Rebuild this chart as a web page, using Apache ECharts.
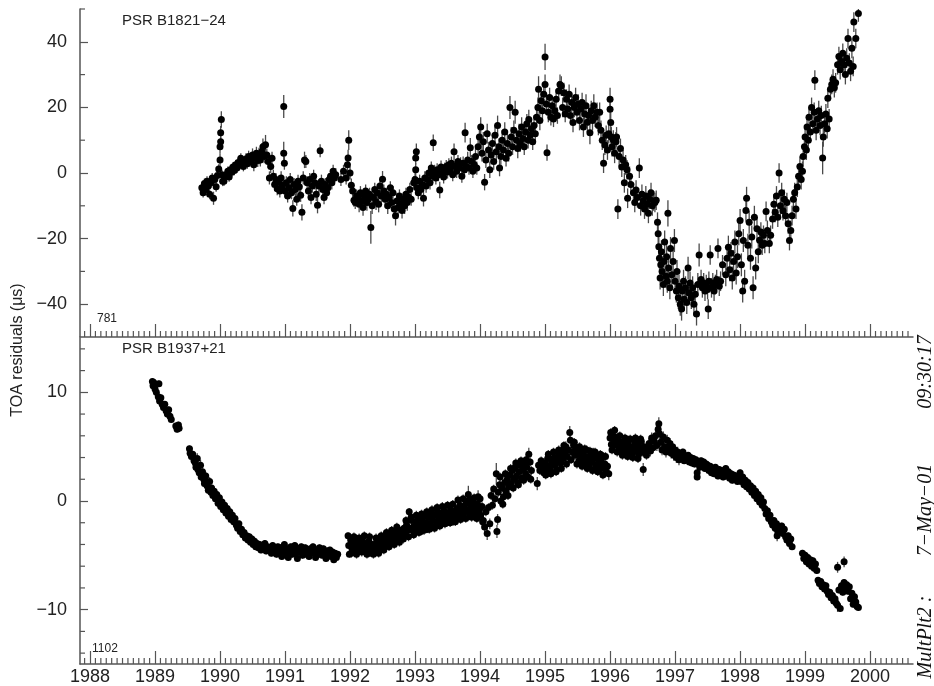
<!DOCTYPE html>
<html>
<head>
<meta charset="utf-8">
<script src="https://cdn.jsdelivr.net/npm/echarts@6/dist/echarts.min.js"></script>
<style>
  html, body { margin: 0; padding: 0; background: #fff; }
  #chart { width: 934px; height: 686px; }
</style>
</head>
<body>
<div id="chart"></div>
<script>
// Timing residuals, one row per TOA: [epoch (yr), residual (us), 1-sigma error (us)]
const b1821Toas = [
  [1989.72,-4.5,1.5],[1989.74,-6.0,1.5],[1989.76,-3.2,1.5],[1989.78,-5.0,1.8],[1989.80,-2.5,1.5],[1989.82,-4.0,2.0],[1989.84,-6.5,1.5],[1989.86,-3.0,1.5],[1989.88,-1.5,1.5],[1989.90,-7.7,2.0],[1989.92,-2.0,1.5],[1989.94,-4.2,1.5],[1989.96,-0.8,1.5],[1989.98,1.2,1.5],[1990.00,4.0,2.0],[1990.00,8.0,2.0],[1990.01,9.5,2.0],[1990.01,12.3,2.0],[1990.02,16.3,2.5],[1990.03,-0.5,1.5],[1990.04,-2.5,1.5],
  [1990.06,-2.5,1.5],[1990.08,-1.0,1.5],[1990.10,-0.5,1.5],[1990.12,0.5,1.5],[1990.14,-1.2,1.5],[1990.16,1.0,1.5],[1990.18,0.2,1.5],[1990.20,1.8,1.5],[1990.22,0.8,1.5],[1990.24,2.5,1.5],[1990.26,1.5,1.5],[1990.28,3.2,1.5],[1990.30,2.4,1.5],[1990.32,4.5,1.5],[1990.34,3.0,1.5],[1990.36,2.0,1.5],[1990.38,3.8,1.5],[1990.40,4.2,1.8],[1990.42,2.8,1.5],[1990.44,5.0,1.8],[1990.46,3.5,1.5],[1990.48,4.0,2.0],[1990.50,5.5,2.0],[1990.52,2.5,2.0],[1990.54,4.5,2.0],[1990.56,6.0,2.0],[1990.58,3.8,2.0],[1990.60,5.2,2.5],[1990.62,4.0,2.0],[1990.64,6.5,2.5],[1990.66,8.0,2.5],[1990.68,5.0,2.0],[1990.70,8.6,3.0],[1990.72,5.5,2.0],[1990.74,3.5,2.0],[1990.76,-1.5,2.0],[1990.78,2.0,2.0],[1990.80,4.5,2.0],
  [1990.82,-1.0,2.0],[1990.84,-3.5,2.0],[1990.86,-2.0,2.0],[1990.88,-4.8,2.0],[1990.90,-2.8,2.0],[1990.92,-5.5,2.0],[1990.94,-1.5,2.0],[1990.96,-3.8,2.0],[1990.98,20.3,3.5],[1990.98,6.0,3.5],[1990.99,3.0,2.0],
  [1991.00,-5.5,2.0],[1991.02,-3.0,2.0],[1991.04,-7.0,2.0],[1991.06,-4.5,2.0],[1991.08,-2.0,2.0],[1991.10,-6.0,2.0],[1991.12,-10.8,2.5],[1991.14,-3.5,2.0],[1991.16,-5.0,2.0],[1991.18,-8.0,2.0],[1991.20,-2.5,2.0],[1991.22,-4.2,2.0],[1991.24,-6.8,2.0],[1991.26,-12.0,2.5],[1991.28,-1.5,2.0],[1991.30,4.0,2.5],[1991.32,3.5,2.0],[1991.34,-3.0,2.0],[1991.36,-5.5,2.0],[1991.38,-2.0,2.0],[1991.40,-7.5,2.0],[1991.42,-4.0,2.0],[1991.44,-1.0,2.0],
  [1991.46,-3.0,2.0],[1991.48,-6.5,2.0],[1991.50,-9.8,2.5],[1991.52,-4.0,2.0],[1991.54,6.8,2.0],[1991.56,-2.5,2.0],[1991.58,-5.0,2.0],[1991.60,-7.5,2.0],[1991.62,-3.5,2.0],[1991.64,-6.0,2.0],[1991.66,-4.5,2.0],[1991.68,-2.0,2.0],[1991.70,-1.0,2.0],[1991.72,-3.0,2.0],[1991.74,0.5,2.0],[1991.76,-1.5,2.0],[1991.78,-0.5,2.0],
  [1991.86,-2.0,2.0],[1991.90,0.5,2.0],[1991.94,-1.5,2.0],[1991.96,2.5,2.0],[1991.97,4.6,2.5],[1991.98,10.0,3.0],[1992.00,0.0,2.0],[1992.02,-3.7,2.0],[1992.04,-5.5,2.0],[1992.06,-8.3,2.0],[1992.08,-9.0,2.0],[1992.10,-7.0,2.0],
  [1992.12,-7.5,2.0],[1992.14,-9.5,2.5],[1992.16,-6.0,2.0],[1992.18,-8.5,2.5],[1992.20,-10.5,2.5],[1992.22,-7.0,2.0],[1992.24,-5.5,2.0],[1992.26,-9.0,2.5],[1992.28,-8.0,2.0],[1992.30,-6.5,2.0],[1992.32,-16.6,5.0],[1992.34,-10.0,2.5],[1992.36,-7.5,2.0],[1992.38,-5.0,2.0],[1992.40,-8.8,2.5],[1992.42,-6.0,2.0],[1992.44,-9.5,2.5],[1992.46,-4.0,2.0],[1992.48,-7.0,2.0],[1992.50,-1.9,2.5],[1992.52,-5.5,2.0],[1992.54,-8.0,2.5],[1992.56,-6.5,2.0],[1992.58,-10.0,2.5],[1992.60,-7.5,2.0],[1992.62,-4.5,2.0],[1992.64,-9.0,2.5],[1992.66,-6.0,2.0],[1992.68,-11.0,2.5],[1992.70,-13.0,3.0],[1992.72,-8.5,2.5],[1992.74,-10.5,2.5],[1992.76,-7.0,2.0],[1992.78,-9.5,2.5],[1992.80,-11.4,2.5],[1992.82,-8.0,2.0],[1992.84,-10.0,2.5],[1992.86,-6.5,2.0],[1992.88,-9.0,2.5],[1992.90,-7.4,2.0],[1992.92,-5.0,2.0],[1992.94,-8.0,2.0],
  [1992.98,-3.0,2.0],[1993.00,-2.0,2.0],[1993.01,1.0,2.0],[1993.01,4.6,2.0],[1993.02,6.5,2.5],[1993.03,-4.5,2.0],[1993.05,-6.0,2.0],[1993.07,-2.5,2.0],[1993.09,-5.0,2.0],[1993.11,-3.5,2.0],[1993.13,-7.7,2.5],[1993.15,-1.5,2.0],[1993.17,-4.0,2.0],[1993.19,-2.0,2.0],[1993.21,0.0,2.0],[1993.23,-3.0,2.0],[1993.25,1.5,2.0],[1993.27,-1.0,2.0],[1993.28,9.2,2.5],[1993.30,0.5,2.0],[1993.32,-1.5,2.0],[1993.34,1.0,2.0],[1993.36,-0.5,2.0],[1993.38,-5.2,2.5],[1993.40,1.8,2.0],[1993.42,0.0,2.0],[1993.44,-1.2,2.0],[1993.46,1.2,2.0],[1993.48,2.0,2.0],[1993.50,0.3,2.0],
  [1993.52,2.5,2.0],[1993.54,1.0,2.0],[1993.56,3.0,2.0],[1993.58,-0.5,2.0],[1993.60,6.5,2.5],[1993.62,2.0,2.0],[1993.64,0.5,2.0],[1993.66,3.5,2.0],[1993.68,1.5,2.0],[1993.70,2.8,2.0],[1993.72,-1.0,2.0],[1993.74,3.0,2.0],[1993.76,1.0,2.0],[1993.77,12.3,3.0],[1993.79,2.0,2.0],[1993.81,4.0,2.5],[1993.83,1.5,2.0],[1993.85,7.7,3.0],[1993.87,3.5,2.0],[1993.89,0.5,2.0],[1993.91,2.5,2.0],[1993.93,5.0,2.5],[1993.95,1.5,2.0],[1993.97,8.0,3.0],
  [1993.99,11.0,3.0],[1994.01,14.0,3.0],[1994.03,6.0,2.5],[1994.05,9.5,3.0],[1994.07,-2.8,2.5],[1994.09,4.0,2.5],[1994.11,12.0,3.0],[1994.13,7.0,2.5],[1994.15,1.0,2.5],[1994.17,5.5,2.5],[1994.19,9.0,3.0],[1994.21,3.5,2.5],[1994.23,11.5,3.0],[1994.25,6.5,2.5],[1994.27,14.5,3.0],[1994.29,8.0,2.5],[1994.30,1.5,2.5],[1994.32,5.0,2.5],[1994.34,10.0,3.0],[1994.36,7.0,2.5],[1994.38,12.5,3.0],[1994.40,4.5,2.5],[1994.42,9.0,3.0],[1994.44,6.0,2.5],[1994.46,20.0,3.5],[1994.48,11.0,3.0],[1994.50,8.0,2.5],[1994.52,13.0,3.0],[1994.54,18.5,3.5],[1994.56,10.0,3.0],[1994.58,7.5,3.0],
  [1994.60,12.0,3.0],[1994.62,9.0,2.5],[1994.64,14.0,3.0],[1994.66,10.5,2.5],[1994.68,8.0,2.5],[1994.70,12.5,3.0],[1994.72,15.0,3.0],[1994.74,10.0,2.5],[1994.75,16.3,3.0],[1994.77,11.5,2.5],[1994.79,13.5,3.0],[1994.81,9.5,2.5],[1994.83,14.5,3.0],[1994.85,12.0,2.5],[1994.87,17.0,3.0],[1994.89,20.0,3.0],[1994.90,25.5,4.0],[1994.92,16.0,3.0],[1994.94,22.0,3.0],
  [1994.96,19.0,3.0],[1994.98,24.0,3.0],[1995.00,27.0,3.0],[1995.00,35.4,4.0],[1995.02,21.0,3.0],[1995.03,6.2,2.5],[1995.05,18.5,3.0],[1995.07,23.0,3.0],[1995.09,17.0,2.5],[1995.11,20.5,3.0],[1995.13,16.5,2.5],[1995.15,19.0,3.0],[1995.17,22.5,3.0],[1995.19,17.5,2.5],
  [1995.21,25.0,3.0],[1995.23,27.0,3.0],[1995.25,26.5,3.0],[1995.27,20.0,3.0],[1995.29,24.5,3.0],[1995.31,18.0,2.5],[1995.33,22.5,3.0],[1995.35,19.5,2.5],[1995.37,24.0,3.0],[1995.39,17.5,2.5],[1995.41,21.5,3.0],[1995.43,15.4,3.0],[1995.45,20.0,3.0],[1995.47,23.0,3.0],[1995.49,18.5,3.0],[1995.51,21.0,3.0],[1995.53,16.0,3.0],[1995.55,19.5,3.0],[1995.57,21.5,3.0],[1995.59,14.0,3.0],[1995.61,18.0,3.0],[1995.63,20.5,3.5],[1995.65,15.5,3.0],[1995.67,17.5,3.0],[1995.69,12.3,3.5],[1995.71,19.0,3.0],[1995.73,16.0,3.0],[1995.75,20.5,3.5],[1995.77,17.0,3.0],[1995.80,18.5,3.0],[1995.82,14.5,3.0],[1995.84,18.5,3.0],
  [1995.86,13.0,3.0],[1995.88,10.0,3.0],[1995.90,3.0,3.0],[1995.92,8.5,3.0],[1995.94,11.5,3.0],[1995.96,7.0,3.0],[1995.98,12.0,3.0],[1996.00,22.5,3.5],[1996.00,19.4,3.0],[1996.01,15.4,3.0],[1996.02,11.0,3.0],[1996.03,8.0,3.0],[1996.05,10.0,3.0],[1996.07,6.0,3.0],[1996.09,9.5,3.0],[1996.10,11.0,3.0],[1996.12,-11.0,3.0],[1996.14,5.0,3.0],[1996.16,7.5,3.0],[1996.18,1.8,3.0],[1996.20,4.0,3.0],[1996.22,-3.0,3.0],[1996.24,2.5,3.0],[1996.26,1.0,3.0],[1996.27,-7.7,3.0],[1996.30,-1.0,3.0],[1996.32,-3.5,3.0],
  [1996.36,-6.0,3.0],[1996.38,-9.0,3.0],[1996.40,-5.2,3.0],[1996.42,-7.5,3.0],[1996.45,1.5,3.0],[1996.47,-10.0,3.0],[1996.49,-6.5,3.0],[1996.51,-8.5,3.0],[1996.53,-11.0,3.0],[1996.55,-7.0,3.0],[1996.57,-9.5,3.0],[1996.59,-12.3,3.0],[1996.61,-8.0,3.0],[1996.63,-6.0,3.0],[1996.65,-10.0,3.0],[1996.67,-8.5,3.0],[1996.69,-9.0,3.0],
  [1996.71,-8.3,3.0],[1996.73,-15.0,3.0],[1996.74,-18.5,3.5],[1996.75,-22.5,3.5],[1996.76,-26.0,3.5],[1996.77,-32.0,3.5],[1996.78,-28.0,3.5],[1996.79,-24.0,3.5],[1996.80,-30.0,3.5],[1996.82,-34.0,3.5],[1996.83,-27.0,3.5],[1996.84,-21.0,3.5],[1996.86,-31.5,3.5],[1996.87,-25.5,3.5],[1996.88,-33.0,3.5],[1996.89,-12.3,4.0],[1996.90,-29.0,3.5],[1996.92,-35.0,3.5],[1996.93,-23.0,3.5],[1996.95,-31.0,3.5],[1996.97,-27.0,3.5],[1996.99,-20.6,3.5],
  [1997.00,-33.0,3.5],[1997.02,-36.0,3.5],[1997.03,-30.0,3.5],[1997.05,-38.0,3.5],[1997.06,-34.5,3.5],[1997.08,-40.0,3.5],[1997.10,-41.5,3.5],[1997.11,-36.0,3.5],[1997.13,-33.0,3.5],[1997.14,-38.5,3.5],[1997.16,-35.0,3.5],[1997.18,-39.5,3.5],[1997.20,-29.0,3.5],[1997.21,-36.5,3.5],[1997.23,-33.5,3.5],[1997.25,-38.0,3.5],[1997.27,-35.0,3.5],[1997.29,-40.0,3.5],[1997.31,-37.0,3.5],[1997.33,-43.0,3.5],[1997.35,-34.0,3.5],[1997.37,-25.0,3.5],
  [1997.40,-32.5,3.0],[1997.42,-35.0,3.0],[1997.44,-33.5,3.0],[1997.46,-36.0,3.0],[1997.48,-34.0,3.0],[1997.50,-35.5,3.0],[1997.51,-41.5,3.0],[1997.52,-33.0,3.0],[1997.54,-25.0,3.0],[1997.56,-35.0,3.0],[1997.58,-33.5,3.0],[1997.60,-36.0,3.0],[1997.62,-34.0,3.0],[1997.64,-32.5,3.0],[1997.66,-23.0,3.0],[1997.68,-34.5,3.0],[1997.70,-33.0,3.0],[1997.73,-28.0,3.0],
  [1997.78,-31.0,3.5],[1997.80,-26.0,3.5],[1997.82,-22.6,3.5],[1997.84,-29.5,3.5],[1997.86,-24.5,3.5],[1997.88,-32.0,3.5],[1997.90,-27.0,3.5],[1997.92,-21.0,3.5],[1997.94,-30.5,3.5],[1997.96,-25.5,3.5],[1997.98,-18.5,3.5],[1998.00,-14.5,3.5],
  [1998.02,-28.0,3.5],[1998.04,-36.0,3.5],[1998.05,-20.6,3.5],[1998.07,-33.0,3.5],[1998.09,-11.4,3.5],[1998.10,-7.7,3.5],[1998.12,-22.0,3.5],[1998.14,-15.0,3.5],[1998.16,-26.0,3.5],[1998.18,-19.5,3.5],[1998.20,-35.0,3.5],[1998.22,-13.5,3.5],[1998.24,-29.0,3.5],[1998.26,-17.0,3.5],[1998.28,-24.0,3.5],[1998.30,-20.5,3.0],[1998.32,-18.0,3.0],[1998.34,-22.0,3.0],[1998.36,-19.0,3.0],[1998.38,-21.5,3.0],[1998.40,-11.7,3.0],[1998.42,-17.5,3.0],[1998.45,-21.5,3.0],[1998.47,-19.0,3.0],
  [1998.50,-14.0,3.0],[1998.52,-9.5,3.0],[1998.54,-12.0,3.0],[1998.56,-7.0,3.0],[1998.58,-13.5,3.0],[1998.60,0.0,3.0],[1998.62,-10.0,3.0],[1998.64,-6.0,3.0],[1998.66,-11.5,3.0],[1998.68,-8.0,3.0],[1998.70,-13.0,3.0],[1998.72,-9.0,3.0],[1998.74,-15.5,3.0],[1998.76,-20.6,3.0],[1998.78,-17.5,3.0],[1998.80,-13.0,3.0],[1998.82,-8.0,3.0],[1998.84,-6.0,3.0],[1998.86,-11.0,3.0],
  [1998.88,-4.3,3.0],[1998.90,-1.0,3.0],[1998.92,2.0,3.0],[1998.94,-2.0,3.0],[1998.96,0.5,3.0],[1998.97,5.0,3.0],[1998.99,8.0,3.0],[1999.00,11.0,3.0],[1999.02,7.0,3.0],[1999.03,14.0,3.0],[1999.05,10.0,3.0],[1999.06,17.0,3.0],[1999.08,12.5,3.0],[1999.10,20.0,3.0],
  [1999.12,15.0,3.0],[1999.14,18.5,3.0],[1999.15,28.3,3.0],[1999.17,13.0,3.0],[1999.19,16.5,3.0],[1999.21,19.0,3.0],[1999.23,14.5,3.0],[1999.25,17.5,3.0],[1999.27,4.6,5.0],[1999.28,11.0,3.0],[1999.30,15.0,3.0],[1999.32,18.0,3.0],[1999.34,13.5,3.0],[1999.35,22.8,3.0],[1999.37,16.5,3.0],[1999.39,25.5,3.0],[1999.41,27.0,3.0],[1999.43,28.6,3.0],[1999.45,26.0,3.0],[1999.47,27.5,3.0],
  [1999.50,33.0,3.0],[1999.52,35.5,3.0],[1999.54,31.5,3.0],[1999.56,34.0,3.0],[1999.58,36.5,3.0],[1999.60,33.0,3.0],[1999.62,30.0,3.0],[1999.64,35.0,3.0],[1999.66,41.0,3.0],[1999.68,33.5,3.0],[1999.70,31.0,3.0],[1999.72,38.0,3.0],[1999.74,32.5,3.0],[1999.75,46.0,3.0],[1999.78,41.0,3.0],[1999.82,48.6,2.5]
];

const b1937Toas = [
  [1988.96,11.0,0.3],[1988.97,10.6,0.3],[1988.98,10.9,0.3],[1989.00,10.3,0.3],[1989.02,10.0,0.3],[1989.06,10.8,0.3],[1989.05,9.6,0.3],[1989.07,9.2,0.3],[1989.09,9.5,0.3],[1989.11,8.9,0.3],[1989.13,8.6,0.3],[1989.15,8.9,0.3],[1989.17,8.3,0.3],[1989.19,8.0,0.3],[1989.21,8.4,0.3],[1989.23,7.8,0.3],[1989.25,7.5,0.3],[1989.32,6.9,0.3],[1989.34,6.6,0.3],[1989.36,7.0,0.3],[1989.37,6.7,0.3],
  [1989.53,4.8,0.3],[1989.54,4.4,0.3],[1989.56,4.1,0.3],[1989.58,4.3,0.3],[1989.60,3.7,0.3],[1989.62,3.5,0.3],[1989.63,3.1,0.3],[1989.65,3.9,0.5],[1989.66,2.9,0.3],[1989.68,2.6,0.3],[1989.70,3.3,0.5],[1989.71,2.2,0.3],[1989.73,2.7,0.3],[1989.75,2.0,0.3],[1989.76,1.6,0.3],[1989.78,2.3,0.4],[1989.80,1.4,0.3],[1989.82,1.0,0.3],[1989.84,1.8,0.4],[1989.86,0.8,0.3],
  [1989.87,1.2,0.3],[1989.89,0.5,0.3],[1989.91,0.9,0.3],[1989.93,0.2,0.3],[1989.95,0.6,0.3],[1989.97,-0.2,0.3],[1989.99,0.3,0.3],[1990.01,-0.5,0.3],[1990.03,-0.1,0.3],[1990.05,-0.8,0.3],[1990.07,-0.4,0.3],[1990.09,-1.1,0.3],[1990.11,-0.7,0.3],[1990.13,-1.4,0.3],[1990.15,-1.0,0.3],[1990.17,-1.7,0.3],[1990.19,-1.3,0.3],
  [1990.21,-1.9,0.3],[1990.23,-1.6,0.3],[1990.25,-2.2,0.3],[1990.27,-2.5,0.3],[1990.29,-2.1,0.3],[1990.31,-2.8,0.3],[1990.33,-2.6,0.3],[1990.35,-3.1,0.3],[1990.37,-2.9,0.3],[1990.39,-3.4,0.3],[1990.41,-3.2,0.3],[1990.43,-3.6,0.3],[1990.45,-3.3,0.3],[1990.47,-3.8,0.3],[1990.49,-3.5,0.3],[1990.51,-4.0,0.3],[1990.53,-3.7,0.3],[1990.55,-4.2,0.3],[1990.57,-3.9,0.3],[1990.59,-4.3,0.3],[1990.61,-4.0,0.3],[1990.63,-4.5,0.3],[1990.65,-4.1,0.3],[1990.67,-4.4,0.3],[1990.69,-3.9,0.3],[1990.71,-4.6,0.3],[1990.73,-4.2,0.3],[1990.75,-4.5,0.3],[1990.77,-4.3,0.3],[1990.79,-4.8,0.3],[1990.81,-4.1,0.3],[1990.83,-4.6,0.3],[1990.85,-4.4,0.3],[1990.87,-4.9,0.3],[1990.89,-4.2,0.3],
  [1990.91,-4.7,0.3],[1990.93,-4.3,0.3],[1990.95,-5.1,0.3],[1990.97,-4.5,0.3],[1990.99,-4.0,0.3],[1991.01,-4.8,0.3],[1991.03,-4.4,0.3],[1991.05,-5.2,0.3],[1991.07,-4.6,0.3],[1991.09,-4.2,0.3],[1991.11,-4.9,0.3],[1991.13,-4.5,0.3],[1991.15,-4.1,0.3],[1991.17,-4.8,0.3],[1991.19,-5.3,0.3],[1991.21,-4.4,0.3],[1991.23,-4.7,0.3],[1991.25,-4.2,0.3],[1991.27,-5.0,0.3],[1991.29,-4.6,0.3],[1991.31,-4.3,0.3],[1991.33,-4.9,0.3],[1991.35,-4.5,0.3],[1991.37,-5.1,0.3],[1991.39,-4.4,0.3],[1991.41,-4.8,0.3],[1991.43,-4.2,0.3],[1991.45,-4.7,0.3],[1991.47,-5.2,0.3],[1991.49,-4.5,0.3],[1991.51,-4.9,0.3],[1991.53,-4.3,0.3],[1991.55,-4.7,0.3],[1991.57,-5.0,0.3],[1991.59,-4.4,0.3],[1991.61,-4.8,0.3],[1991.63,-5.3,0.3],[1991.65,-4.6,0.3],[1991.67,-4.9,0.3],[1991.69,-4.5,0.3],[1991.71,-5.1,0.3],[1991.73,-4.7,0.3],[1991.75,-5.4,0.3],[1991.77,-4.8,0.3],[1991.79,-5.2,0.3],[1991.81,-4.9,0.3],
  [1991.97,-3.2,0.3],[1991.98,-4.1,0.3],[1991.99,-4.9,0.3],[1992.01,-3.6,0.3],[1992.03,-4.4,0.3],[1992.05,-3.9,0.3],[1992.07,-4.6,0.3],[1992.09,-3.5,0.3],[1992.11,-4.2,0.3],[1992.13,-3.8,0.3],[1992.15,-4.5,0.3],[1992.17,-4.0,0.3],[1992.19,-3.6,0.3],[1992.21,-4.3,0.3],[1992.23,-3.9,0.3],[1992.25,-4.6,0.3],[1992.27,-4.1,0.3],[1992.29,-3.7,0.3],[1992.31,-4.4,0.3],[1992.33,-4.8,0.3],[1992.35,-4.0,0.3],[1992.37,-4.5,0.3],[1992.39,-4.2,0.3],[1992.41,-3.8,0.3],[1992.43,-4.6,0.3],[1992.45,-4.1,0.3],[1992.47,-3.7,0.3],[1992.49,-4.3,0.3],[1992.51,-3.9,0.3],[1992.53,-3.4,0.3],[1992.55,-4.0,0.3],[1992.57,-3.6,0.3],[1992.59,-3.2,0.3],[1992.61,-3.8,0.3],[1992.63,-3.4,0.3],[1992.65,-3.0,0.3],[1992.67,-3.6,0.3],[1992.69,-3.2,0.3],[1992.71,-2.8,0.3],[1992.73,-3.5,0.3],[1992.75,-3.1,0.3],[1992.77,-2.7,0.3],[1992.79,-3.3,0.3],
  [1992.02,-4.8,0.4],[1992.06,-3.3,0.4],[1992.10,-4.9,0.4],[1992.14,-3.4,0.4],[1992.18,-4.7,0.4],[1992.22,-3.2,0.4],[1992.26,-4.9,0.4],[1992.30,-3.3,0.4],[1992.36,-4.9,0.4],[1992.40,-3.4,0.4],[1992.44,-4.8,0.4],[1992.48,-3.2,0.4],[1992.52,-4.5,0.4],[1992.56,-2.9,0.4],[1992.60,-4.2,0.4],[1992.64,-2.7,0.4],[1992.68,-4.0,0.4],[1992.72,-2.4,0.4],[1992.76,-3.8,0.4],
  [1992.81,-2.9,0.35],[1992.83,-2.5,0.35],[1992.85,-3.1,0.35],[1992.87,-2.2,0.35],[1992.89,-2.7,0.35],[1992.91,-1.0,0.35],[1992.93,-2.6,0.35],[1992.95,-1.8,0.35],[1992.97,-2.4,0.35],[1992.99,-2.9,0.35],[1993.01,-1.9,0.35],[1993.03,-2.5,0.35],[1993.05,-1.6,0.35],[1993.07,-2.2,0.35],[1993.09,-2.8,0.35],[1993.11,-1.7,0.35],[1993.13,-2.3,0.35],[1993.15,-1.4,0.35],[1993.17,-2.0,0.35],[1993.19,-2.6,0.35],[1993.21,-1.5,0.35],[1993.23,-2.1,0.35],[1993.25,-1.2,0.35],[1993.27,-1.8,0.35],[1993.29,-2.4,0.35],[1993.31,-1.3,0.35],[1993.33,-1.9,0.35],[1993.35,-1.0,0.35],[1993.37,-1.6,0.35],[1993.39,-2.2,0.35],[1993.41,-1.2,0.35],[1993.43,-1.8,0.35],[1993.45,-0.9,0.35],[1993.47,-1.5,0.35],[1993.49,-2.0,0.35],[1993.51,-1.1,0.35],[1993.53,-1.6,0.35],[1993.55,-0.8,0.35],[1993.57,-1.4,0.35],[1993.59,-1.9,0.35],[1993.61,-1.0,0.35],[1993.63,-1.5,0.35],
  [1992.82,-3.5,0.4],[1992.86,-1.8,0.4],[1992.90,-3.3,0.4],[1992.94,-1.5,0.4],[1992.98,-3.1,0.4],[1993.02,-1.3,0.4],[1993.06,-2.9,0.4],[1993.10,-1.2,0.4],[1993.14,-2.7,0.4],[1993.18,-1.0,0.4],[1993.22,-2.6,0.4],[1993.26,-0.8,0.4],[1993.30,-2.5,0.4],[1993.34,-0.6,0.4],[1993.38,-2.3,0.4],[1993.42,-0.5,0.4],[1993.46,-2.1,0.4],[1993.50,-0.4,0.4],[1993.54,-2.0,0.4],[1993.58,-0.3,0.4],[1993.62,-1.9,0.4],
  [1993.65,-0.7,0.4],[1993.67,-1.2,0.4],[1993.69,-0.4,0.4],[1993.71,-0.9,0.4],[1993.73,-1.4,0.4],[1993.75,-0.5,0.4],[1993.77,-1.0,0.4],[1993.79,-0.2,0.4],[1993.81,-0.8,0.4],[1993.82,0.6,0.8],[1993.84,-1.3,0.4],[1993.86,-0.4,0.4],[1993.88,-0.9,0.4],[1993.90,-0.1,0.4],[1993.92,-0.7,0.4],[1993.94,-1.2,0.4],[1993.96,-0.3,0.4],[1993.97,0.4,0.6],[1993.99,-0.8,0.4],[1994.01,-1.3,0.4],[1994.03,-0.5,0.4],[1994.05,-1.8,0.5],[1994.07,-2.4,0.5],[1994.09,-1.0,0.4],[1994.11,-3.0,0.6],[1994.13,-0.6,0.4],[1994.15,-2.1,0.5],
  [1993.66,0.1,0.4],[1993.70,-1.7,0.4],[1993.74,0.2,0.4],[1993.78,-1.6,0.4],[1993.83,0.1,0.4],[1993.87,-1.5,0.4],[1993.91,0.3,0.4],[1993.95,-1.6,0.4],[1994.00,0.2,0.4],[1994.04,-1.9,0.4],
  [1994.17,0.5,0.4],[1994.19,-0.4,0.4],[1994.21,1.1,0.4],[1994.23,0.2,0.4],[1994.25,2.5,1.0],[1994.26,-2.8,0.6],[1994.27,-1.7,0.5],[1994.28,0.8,0.4],[1994.30,1.5,0.4],[1994.32,0.0,0.4],[1994.34,1.2,0.4],[1994.36,0.4,0.4],[1994.38,1.7,0.4],[1994.40,0.9,0.4],[1994.42,2.0,0.4],[1994.44,1.3,0.4],[1994.46,2.4,0.4],[1994.48,1.6,0.4],[1994.50,2.8,0.4],[1994.52,2.0,0.4],[1994.54,3.1,0.4],[1994.56,2.3,0.4],[1994.58,1.7,0.4],[1994.60,2.7,0.4],[1994.62,3.3,0.4],[1994.64,2.1,0.4],[1994.66,2.9,0.4],[1994.68,3.5,0.4],[1994.70,2.5,0.4],[1994.72,3.1,0.4],[1994.74,2.2,0.4],[1994.75,4.3,0.6],[1994.77,3.6,0.4],[1994.79,2.8,0.4],
  [1994.31,2.2,0.4],[1994.35,-0.3,0.4],[1994.39,2.5,0.4],[1994.43,0.5,0.4],[1994.47,3.0,0.4],[1994.51,1.2,0.4],[1994.55,3.5,0.4],[1994.59,1.5,0.4],[1994.63,3.7,0.4],[1994.67,1.9,0.4],[1994.71,3.8,0.4],[1994.78,2.0,0.4],
  [1994.88,1.6,0.6],[1994.90,3.3,0.4],[1994.92,2.8,0.4],[1994.94,3.7,0.4],[1994.96,3.1,0.4],[1994.98,2.6,0.4],[1995.00,3.5,0.4],[1995.02,3.0,0.4],[1995.04,3.9,0.4],[1995.06,3.2,0.4],[1995.08,2.8,0.4],[1995.10,3.6,0.4],[1995.12,3.3,0.4],[1995.14,4.0,0.4],[1995.16,3.4,0.4],[1995.18,2.9,0.4],[1995.20,3.8,0.4],[1995.22,4.3,0.4],[1995.24,3.5,0.4],[1995.26,4.6,0.4],[1995.28,3.9,0.4],[1995.30,4.4,0.4],[1995.32,5.0,0.5],[1995.34,4.1,0.4],[1995.36,4.7,0.4],[1995.38,6.3,0.6],[1995.39,5.6,0.5],[1995.40,3.8,0.4],[1995.42,4.5,0.4],[1995.44,5.1,0.4],[1995.46,4.2,0.4],[1995.48,4.8,0.4],
  [1995.01,2.4,0.4],[1995.05,4.3,0.4],[1995.09,2.5,0.4],[1995.13,4.5,0.4],[1995.17,2.7,0.4],[1995.21,4.7,0.4],[1995.25,3.0,0.4],[1995.29,5.1,0.4],[1995.33,3.4,0.4],[1995.45,5.4,0.4],[1995.49,3.4,0.4],[1995.53,5.0,0.4],[1995.57,3.2,0.4],[1995.61,4.8,0.4],[1995.65,3.0,0.4],[1995.69,4.6,0.4],[1995.73,2.8,0.4],[1995.77,4.5,0.4],[1995.81,2.7,0.4],[1995.85,4.3,0.4],[1995.89,2.4,0.4],[1995.93,4.1,0.4],
  [1995.50,4.3,0.4],[1995.52,3.7,0.4],[1995.54,4.6,0.4],[1995.56,3.9,0.4],[1995.58,4.4,0.4],[1995.60,3.5,0.4],[1995.62,4.1,0.4],[1995.64,4.7,0.4],[1995.66,3.8,0.4],[1995.68,3.3,0.4],[1995.70,4.2,0.4],[1995.72,3.6,0.4],[1995.74,4.5,0.4],[1995.76,3.9,0.4],[1995.78,3.2,0.4],[1995.80,4.0,0.4],[1995.82,3.5,0.4],[1995.84,2.9,0.4],[1995.86,3.7,0.4],[1995.88,3.1,0.4],[1995.90,4.1,0.4],[1995.92,3.4,0.4],[1995.94,2.7,0.4],[1995.96,3.2,0.4],[1995.98,2.5,0.6],
  [1996.00,5.8,0.4],[1996.01,6.3,0.4],[1996.02,5.2,0.4],[1996.04,6.0,0.4],[1996.06,5.4,0.4],[1996.08,5.9,0.4],[1996.10,5.1,0.4],[1996.12,5.6,0.4],[1996.14,4.9,0.4],[1996.16,5.4,0.4],[1996.18,4.7,0.4],[1996.20,5.2,0.4],[1996.22,4.6,0.4],[1996.24,5.3,0.4],[1996.26,4.8,0.4],[1996.28,5.5,0.5],[1996.30,4.5,0.4],[1996.32,5.0,0.4],[1996.34,4.4,0.4],[1996.36,4.9,0.4],[1996.38,5.4,0.4],[1996.40,4.6,0.4],[1996.42,5.2,0.4],[1996.44,4.3,0.4],[1996.46,4.9,0.4],[1996.48,5.5,0.4],[1996.50,4.5,0.4],[1996.51,2.9,0.6],[1996.52,5.0,0.4],[1996.56,4.2,0.4],[1996.58,4.8,0.4],
  [1996.03,4.7,0.4],[1996.07,6.5,0.4],[1996.11,4.5,0.4],[1996.15,6.0,0.4],[1996.19,4.2,0.4],[1996.23,5.8,0.4],[1996.27,4.1,0.4],[1996.31,5.7,0.4],[1996.35,4.0,0.4],[1996.39,5.8,0.4],[1996.43,3.9,0.4],[1996.47,5.7,0.4],
  [1996.60,5.3,0.5],[1996.62,4.6,0.5],[1996.64,5.8,0.5],[1996.66,4.9,0.5],[1996.68,5.5,0.5],[1996.70,6.0,0.5],[1996.72,5.1,0.5],[1996.74,6.6,0.5],[1996.75,7.1,0.6],[1996.76,6.2,0.5],[1996.78,5.4,0.5],[1996.80,4.7,0.5],[1996.82,5.9,0.5],[1996.84,5.0,0.5],[1996.86,4.5,0.5],[1996.88,5.6,0.5],[1996.90,4.8,0.5],[1996.92,5.3,0.5],[1996.94,4.4,0.5],[1996.96,5.0,0.5],[1996.98,4.2,0.5],[1997.00,4.7,0.5],[1997.02,4.0,0.5],[1997.04,4.5,0.5],[1997.06,3.8,0.5],
  [1997.08,4.3,0.3],[1997.10,3.9,0.3],[1997.12,4.5,0.3],[1997.14,3.7,0.3],[1997.16,4.1,0.3],[1997.18,3.8,0.3],[1997.20,4.2,0.3],[1997.22,3.6,0.3],[1997.24,4.0,0.3],[1997.26,3.5,0.3],[1997.28,3.9,0.3],[1997.30,3.4,0.3],[1997.32,3.8,0.3],[1997.34,2.2,0.3],[1997.34,2.6,0.3],[1997.36,3.5,0.3],[1997.38,3.1,0.3],[1997.40,3.7,0.3],[1997.42,3.2,0.3],[1997.44,3.6,0.3],[1997.46,3.0,0.3],[1997.48,3.4,0.3],
  [1997.50,3.3,0.3],[1997.52,2.8,0.3],[1997.54,3.2,0.3],[1997.56,2.6,0.3],[1997.58,3.0,0.3],[1997.60,2.5,0.3],[1997.62,3.1,0.3],[1997.64,2.7,0.3],[1997.66,2.3,0.3],[1997.68,2.9,0.3],[1997.70,2.4,0.3],[1997.72,2.8,0.3],[1997.74,2.2,0.3],[1997.76,2.6,0.3],[1997.78,3.0,0.3],[1997.80,2.3,0.3],[1997.82,2.7,0.3],[1997.84,2.1,0.3],[1997.86,2.5,0.3],[1997.88,1.9,0.3],[1997.90,2.4,0.3],[1997.92,2.0,0.3],[1997.94,2.3,0.3],[1997.96,1.8,0.3],[1997.98,2.1,0.3],
  [1998.00,2.6,0.3],[1998.02,1.8,0.3],[1998.04,2.2,0.3],[1998.06,1.5,0.3],[1998.08,1.9,0.3],[1998.10,1.3,0.3],[1998.12,1.7,0.3],[1998.14,1.1,0.3],[1998.16,1.4,0.3],[1998.18,0.8,0.3],[1998.20,1.2,0.3],[1998.22,0.5,0.3],[1998.24,0.9,0.3],[1998.26,0.2,0.3],[1998.28,0.6,0.3],[1998.30,-0.1,0.3],[1998.32,0.3,0.3],[1998.34,-0.4,0.3],[1998.36,-0.1,0.3],[1998.38,-0.7,0.3],
  [1998.40,-1.2,0.3],[1998.42,-0.9,0.3],[1998.44,-1.6,0.3],[1998.46,-1.3,0.3],[1998.48,-1.9,0.3],[1998.50,-2.2,0.3],[1998.52,-1.8,0.3],[1998.54,-2.5,0.3],[1998.56,-2.1,0.3],[1998.57,-3.2,0.5],[1998.58,-2.8,0.3],[1998.60,-2.4,0.3],[1998.62,-2.7,0.3],[1998.64,-2.3,0.3],[1998.66,-3.0,0.3],[1998.68,-2.6,0.3],[1998.70,-3.3,0.3],[1998.72,-3.6,0.3],[1998.74,-3.2,0.3],[1998.76,-3.9,0.3],[1998.78,-3.5,0.3],[1998.80,-4.2,0.3],
  [1998.96,-4.8,0.3],[1998.98,-5.3,0.3],[1999.00,-5.0,0.3],[1999.02,-5.6,0.3],[1999.04,-5.2,0.3],[1999.06,-5.8,0.3],[1999.08,-5.4,0.3],[1999.10,-6.0,0.3],[1999.12,-5.5,0.3],[1999.14,-6.2,0.3],[1999.16,-5.8,0.3],[1999.18,-6.4,0.3],
  [1999.20,-7.3,0.3],[1999.22,-7.6,0.3],[1999.24,-7.4,0.3],[1999.26,-7.9,0.3],[1999.28,-7.7,0.3],[1999.30,-8.1,0.3],[1999.32,-7.8,0.3],
  [1999.34,-8.3,0.3],[1999.36,-8.6,0.3],[1999.38,-8.4,0.3],[1999.40,-8.9,0.3],[1999.42,-8.7,0.3],[1999.44,-9.2,0.3],[1999.46,-9.0,0.3],[1999.48,-9.4,0.3],[1999.50,-9.6,0.6],[1999.50,-6.1,0.5],[1999.52,-8.2,0.3],[1999.54,-9.9,0.3],[1999.56,-7.8,0.3],[1999.58,-8.4,0.3],[1999.60,-5.6,0.5],[1999.60,-7.5,0.3],[1999.62,-8.0,0.3],[1999.64,-7.7,0.3],[1999.66,-8.3,0.3],[1999.68,-7.9,0.3],[1999.70,-9.0,0.3],[1999.72,-8.5,0.3],[1999.74,-9.5,0.3],[1999.76,-8.8,0.3],[1999.78,-9.3,0.3],[1999.80,-9.7,0.3],[1999.82,-9.8,0.3]
];

// Axis ranges and tick positions
const epochRange = [1987.846, 2000.66];
const yearTicks = [1988, 1989, 1990, 1991, 1992, 1993, 1994, 1995, 1996, 1997, 1998, 1999, 2000];
const b1821Range = [-50, 50];
const b1821MajorTicks = [-40, -20, 0, 20, 40];
const b1821MinorTicks = [-30, -10, 10, 30, 50];
const b1937Range = [-15, 15];
const b1937MajorTicks = [-10, 0, 10];
const b1937MinorTicks = [-14, -12, -8, -6, -4, -2, 2, 4, 6, 8, 12, 14];

const panelNames = ['PSR B1821\u221224', 'PSR B1937+21'];
const toaCounts = ['781', '1102'];
const yTitle = 'TOA residuals (\u03bcs)';
const stampParts = ['MultPlt2 :', '7\u2212May\u221201', '09:30:17'];

// Monthly minor ticks between the year ticks
const monthTicks = [];
for (let y = Math.floor(epochRange[0]); y <= Math.ceil(epochRange[1]); y++) {
  for (let m = 1; m < 12; m++) {
    const v = y + m / 12;
    if (v > epochRange[0] && v < epochRange[1]) monthTicks.push(v);
  }
}

const AXIS_COLOR = '#555';
const LABEL_FONT = '"Liberation Sans", Arial, Helvetica, sans-serif';
const fmtNum = v => (v < 0 ? '\u2212' + Math.abs(v) : String(v));
const MINOR_X_LEN = 6;
const MINOR_Y_LEN = 5;

function epochAxis(gridIndex, withLabels) {
  return {
    type: 'value', gridIndex, position: 'bottom',
    min: epochRange[0], max: epochRange[1],
    axisLine: { show: true, onZero: false, lineStyle: { color: AXIS_COLOR, width: 1.5 } },
    axisTick: { show: true, inside: true, length: 13, customValues: yearTicks,
                lineStyle: { color: AXIS_COLOR, width: 1.2 } },
    axisLabel: { show: withLabels, customValues: yearTicks, margin: 4, fontSize: 18,
                 fontFamily: LABEL_FONT, color: '#222', formatter: v => String(v) },
    splitLine: { show: false }
  };
}

function residAxis(gridIndex, range, ticks) {
  return {
    type: 'value', gridIndex, position: 'left',
    min: range[0], max: range[1],
    axisLine: { show: true, onZero: false, lineStyle: { color: AXIS_COLOR, width: 1.5 } },
    axisTick: { show: true, inside: true, length: 8, customValues: ticks,
                lineStyle: { color: AXIS_COLOR, width: 1.2 } },
    axisLabel: { show: true, customValues: ticks, margin: 13, fontSize: 18,
                 fontFamily: LABEL_FONT, color: '#222', formatter: fmtNum },
    splitLine: { show: false }
  };
}

// Vertical error bar for each TOA
function errorBars(params, api) {
  const t = api.value(0), r = api.value(1), e = api.value(2);
  const lo = api.coord([t, r - e]);
  const hi = api.coord([t, r + e]);
  return {
    type: 'line',
    shape: { x1: lo[0], y1: lo[1], x2: hi[0], y2: hi[1] },
    style: { stroke: '#4a4a4a', lineWidth: 1.3 }
  };
}

// Short minor tick marks on the panel's bottom (kind 0) and left (kind 1) axes
function minorTicks(params, api) {
  const p = api.coord([api.value(0), api.value(1)]);
  const vertical = api.value(2) === 0;
  return {
    type: 'line',
    shape: vertical
      ? { x1: p[0], y1: p[1], x2: p[0], y2: p[1] - MINOR_X_LEN }
      : { x1: p[0], y1: p[1], x2: p[0] + MINOR_Y_LEN, y2: p[1] },
    style: { stroke: AXIS_COLOR, lineWidth: 1.2 }
  };
}

function tickRows(yRange, yMinor) {
  return monthTicks.map(v => [v, yRange[0], 0])
    .concat(yMinor.map(v => [epochRange[0], v, 1]));
}

function panelSeries(data, axisIndex, yRange, yMinor) {
  return [
    {
      type: 'custom', xAxisIndex: axisIndex, yAxisIndex: axisIndex,
      renderItem: minorTicks, data: tickRows(yRange, yMinor), clip: false, silent: true, z: 1
    },
    {
      type: 'custom', xAxisIndex: axisIndex, yAxisIndex: axisIndex,
      dimensions: ['epoch', 'resid', 'err'],
      encode: { x: 'epoch', y: 'resid' },
      renderItem: errorBars, data, clip: true, silent: true, z: 2
    },
    {
      type: 'scatter', xAxisIndex: axisIndex, yAxisIndex: axisIndex,
      dimensions: ['epoch', 'resid', 'err'],
      encode: { x: 'epoch', y: 'resid' },
      data, symbol: 'circle', symbolSize: 7, z: 3,
      itemStyle: { color: '#000', opacity: 1 }, silent: true
    }
  ];
}

const chart = echarts.init(document.getElementById('chart'), null, { renderer: 'canvas' });

const textStyle = (text, font, align, fill) => ({
  text, font, fill: fill || '#222',
  align, verticalAlign: 'middle', textAlign: align, textVerticalAlign: 'middle'
});
const STAMP_FONT = 'italic 20px "Liberation Serif", "DejaVu Serif", serif';

chart.setOption({
  animation: false,
  backgroundColor: '#fff',
  grid: [
    { left: 80, top: 9, width: 833, height: 328 },
    { left: 80, top: 338, width: 833, height: 328 }
  ],
  xAxis: [ epochAxis(0, false), epochAxis(1, true) ],
  yAxis: [
    residAxis(0, b1821Range, b1821MajorTicks),
    residAxis(1, b1937Range, b1937MajorTicks)
  ],
  series: [
    ...panelSeries(b1821Toas, 0, b1821Range, b1821MinorTicks),
    ...panelSeries(b1937Toas, 1, b1937Range, b1937MinorTicks)
  ],
  graphic: [
    { type: 'text', x: 122, y: 21, style: textStyle(panelNames[0], '15px ' + LABEL_FONT, 'left') },
    { type: 'text', x: 122, y: 349, style: textStyle(panelNames[1], '15px ' + LABEL_FONT, 'left') },
    { type: 'text', x: 97, y: 319, style: textStyle(toaCounts[0], '12px ' + LABEL_FONT, 'left') },
    { type: 'text', x: 92, y: 649, style: textStyle(toaCounts[1], '12px ' + LABEL_FONT, 'left') },
    { type: 'text', x: 18, y: 350, rotation: Math.PI / 2, style: textStyle(yTitle, '16px ' + LABEL_FONT, 'center') },
    { type: 'text', x: 926, y: 637, rotation: Math.PI / 2, style: textStyle(stampParts[0], STAMP_FONT, 'center', '#111') },
    { type: 'text', x: 926, y: 510, rotation: Math.PI / 2, style: textStyle(stampParts[1], STAMP_FONT, 'center', '#111') },
    { type: 'text', x: 926, y: 372, rotation: Math.PI / 2, style: textStyle(stampParts[2], STAMP_FONT, 'center', '#111') }
  ]
});
</script>
</body>
</html>
